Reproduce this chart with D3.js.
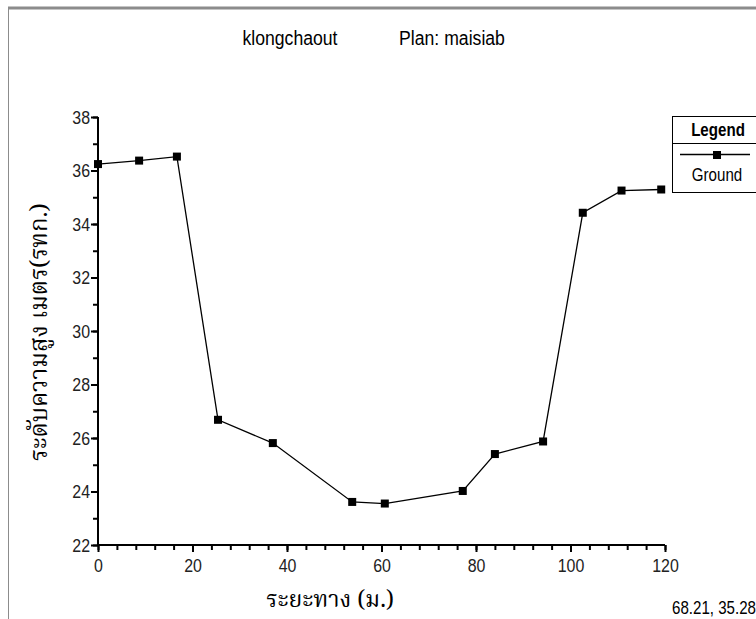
<!DOCTYPE html>
<html>
<head>
<meta charset="utf-8">
<script src="https://cdn.jsdelivr.net/npm/d3@7"></script>
<style>
  body { margin: 0; background: #fff; overflow: hidden; }
  .narrow { font-family: "Liberation Sans", Arial, sans-serif; }
  .thai { font-family: "Noto Serif Thai", "Noto Sans Thai", "Angsana New", serif; }
</style>
</head>
<body>
<div class="chart"></div>
<script>
// station (m) and ground elevation (m)
const station = [0, 8.7, 16.7, 25.4, 37.0, 53.8, 60.7, 77.2, 84.0, 94.2, 102.6, 110.8, 119.2];
const ground  = [36.24, 36.37, 36.52, 26.68, 25.81, 23.61, 23.55, 24.02, 25.40, 25.87, 34.42, 35.25, 35.29];
const xTicks = [0, 20, 40, 60, 80, 100, 120];
const yTicks = [22, 24, 26, 28, 30, 32, 34, 36, 38];

const width = 756, height = 619;
const margin = {top: 117, right: 91, bottom: 74, left: 98};
const squeeze = 0.84;   // condensed look of the original UI font

const svg = d3.select('.chart').append('svg')
    .attr('width', width)
    .attr('height', height);

// window frame
svg.append('line').attr('x1', 8).attr('x2', width).attr('y1', 8).attr('y2', 8)
    .attr('stroke', '#8c8c8c').attr('stroke-width', 3);
svg.append('line').attr('x1', 8.5).attr('x2', 8.5).attr('y1', 7).attr('y2', height)
    .attr('stroke', '#8c8c8c').attr('stroke-width', 1);

const x = d3.scaleLinear().domain([0, 120]).range([margin.left, width - margin.right]);
const y = d3.scaleLinear().domain([22, 38]).range([height - margin.bottom, margin.top]);

function narrowText(parent, tx, ty, str, size, anchor) {
    return parent.append('text').attr('class', 'narrow')
        .attr('transform', 'translate(' + tx + ',' + ty + ') scale(' + squeeze + ',1)')
        .attr('text-anchor', anchor || 'middle')
        .attr('font-size', size).attr('fill', '#000').text(str);
}

// title
narrowText(svg, 290, 45, 'klongchaout', 21);
narrowText(svg, 452, 45, 'Plan: maisiab', 21);

// x axis with minor ticks every 4
const xAxisG = svg.append('g').attr('transform', 'translate(0,' + y(22) + ')');
xAxisG.call(d3.axisBottom(x).tickValues(d3.range(0, 121, 4)).tickSize(5).tickFormat(''));
xAxisG.call(g => g.select('.domain').remove());
const xMajor = svg.append('g').attr('class', 'narrow').attr('transform', 'translate(0,' + y(22) + ')')
    .call(d3.axisBottom(x).tickValues(xTicks).tickSize(7).tickPadding(7).tickFormat(d3.format('d')));

// y axis with minor ticks every 1
const yAxisG = svg.append('g').attr('transform', 'translate(' + x(0) + ',0)');
yAxisG.call(d3.axisLeft(y).tickValues(d3.range(22, 39, 1)).tickSize(5).tickFormat(''));
yAxisG.call(g => g.select('.domain').remove());
const yMajor = svg.append('g').attr('class', 'narrow').attr('transform', 'translate(' + x(0) + ',0)')
    .call(d3.axisLeft(y).tickValues(yTicks).tickSize(7).tickPadding(1).tickFormat(d3.format('d')));

svg.selectAll('.domain').attr('stroke', '#000').attr('stroke-width', 2);
svg.selectAll('.tick line').attr('stroke', '#000').attr('stroke-width', 2);
[xMajor, yMajor].forEach(g => g.selectAll('text')
    .attr('font-size', 19).attr('fill', '#222')
    .attr('font-family', '"Liberation Sans", Arial, sans-serif'));
xMajor.selectAll('text').attr('transform', 'scale(' + squeeze + ',1)');
yMajor.selectAll('text').attr('x', -8 / squeeze).attr('transform', 'scale(' + squeeze + ',1)');
xMajor.selectAll('.domain').attr('d', 'M' + x(0) + ',0H' + x(120));
yMajor.selectAll('.domain').attr('d', 'M0,' + y(22) + 'V' + y(38));

// ground line
const pts = station.map((s, i) => [s, ground[i]]);
svg.append('path')
    .datum(pts)
    .attr('fill', 'none')
    .attr('stroke', '#000')
    .attr('stroke-width', 1.3)
    .attr('d', d3.line().x(d => x(d[0])).y(d => y(d[1])));

svg.selectAll('.mark')
    .data(pts)
    .enter().append('rect')
    .attr('class', 'mark')
    .attr('x', d => x(d[0]) - 4)
    .attr('y', d => y(d[1]) - 4)
    .attr('width', 8)
    .attr('height', 8)
    .attr('fill', '#000');

// legend
const lg = svg.append('g');
lg.append('rect').attr('x', 672.5).attr('y', 116.5).attr('width', 100).attr('height', 76)
    .attr('fill', '#fff').attr('stroke', '#000').attr('stroke-width', 1);
lg.append('line').attr('x1', 672).attr('x2', 756).attr('y1', 143.5).attr('y2', 143.5)
    .attr('stroke', '#000').attr('stroke-width', 1);
narrowText(lg, 718, 136, 'Legend', 18).attr('font-weight', 'bold');
lg.append('line').attr('x1', 680).attr('x2', 750).attr('y1', 154.5).attr('y2', 154.5)
    .attr('stroke', '#000').attr('stroke-width', 1.3);
lg.append('rect').attr('x', 713).attr('y', 151).attr('width', 8).attr('height', 8).attr('fill', '#000');
narrowText(lg, 717, 181, 'Ground', 18);

// axis titles
svg.append('text').attr('class', 'thai')
    .attr('transform', 'translate(47,' + 332 + ') rotate(-90)')
    .attr('text-anchor', 'middle').attr('font-size', 24).attr('fill', '#000')
    .text('ระดับความสูง เมตร(รทก.)');
svg.append('text').attr('class', 'thai')
    .attr('x', 330).attr('y', 607)
    .attr('text-anchor', 'middle').attr('font-size', 23).attr('fill', '#000')
    .text('ระยะทาง (ม.)');

// cursor readout (cut by the window edge as in the original)
narrowText(svg, 672, 614, '68.21, 35.28', 18, 'start');
</script>
</body>
</html>
